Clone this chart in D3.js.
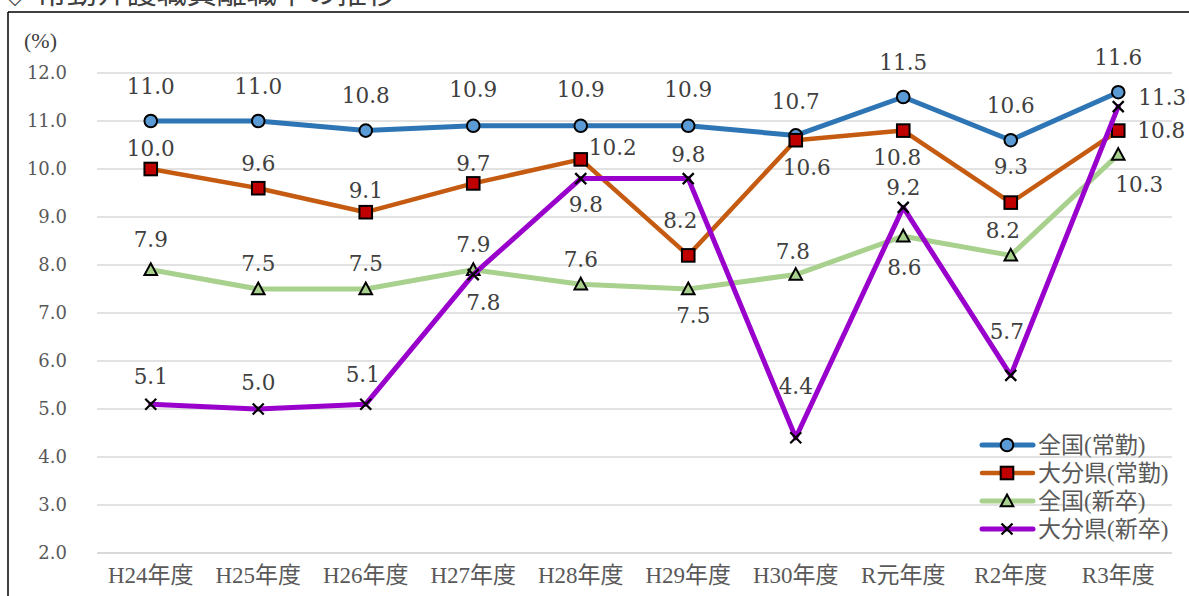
<!DOCTYPE html>
<html lang="ja">
<head>
<meta charset="utf-8">
<script src="https://cdn.jsdelivr.net/npm/d3@7"></script>
<style>
  html, body { margin: 0; padding: 0; background: #fff; overflow: hidden; }
  svg { display: block; }
</style>
</head>
<body>
<script>
// 年度別の離職率（%）
const categories = ["H24年度", "H25年度", "H26年度", "H27年度", "H28年度", "H29年度", "H30年度", "R元年度", "R2年度", "R3年度"];
const seriesNames = ["全国(常勤)", "大分県(常勤)", "全国(新卒)", "大分県(新卒)"];
const nationalRegular = [11.0, 11.0, 10.8, 10.9, 10.9, 10.9, 10.7, 11.5, 10.6, 11.6];
const oitaRegular     = [10.0, 9.6, 9.1, 9.7, 10.2, 8.2, 10.6, 10.8, 9.3, 10.8];
const nationalNewGrad = [7.9, 7.5, 7.5, 7.9, 7.6, 7.5, 7.8, 8.6, 8.2, 10.3];
const oitaNewGrad     = [5.1, 5.0, 5.1, 7.8, 9.8, 9.8, 4.4, 9.2, 5.7, 11.3];
const yTicks = [2, 3, 4, 5, 6, 7, 8, 9, 10, 11, 12];

// ラベルの配置（点からのずれ, px）
const labelShift = [
  [[0,-35],[0,-35],[0,-35],[0,-36],[0,-36],[0,-36],[0,-34],[0,-35],[0,-35],[0,-35]],
  [[0,-21],[0,-25],[0,-22],[0,-20],[32,-12],[-8,-35],[11,27],[-6,27],[0,-36],[43,0]],
  [[0,-30],[0,-26],[0,-26],[0,-25],[0,-25],[5,26],[-3,-23],[1,31],[-8,-25],[21,30]],
  [[0,-28],[0,-27],[-3,-30],[10,28],[5,26],[0,-24],[0,-51],[0,-20],[-4,-44],[44,-9]]
];

const W = 1189, H = 596;
const svg = d3.select("body").append("svg").attr("width", W).attr("height", H);

const serifFont = "'Liberation Serif', 'Noto Sans CJK JP', serif";
const labelFont = "'DejaVu Serif', 'Noto Sans CJK JP', serif";

// 見出し（上端で切れている）
svg.append("text")
  .attr("x", 0).attr("y", 3)
  .attr("font-family", "'Noto Sans CJK JP', sans-serif")
  .attr("font-size", 30)
  .attr("fill", "#404040")
  .text("◇ 常勤介護職員離職率の推移");

// 外枠
svg.append("line").attr("x1", 8).attr("x2", W + 5).attr("y1", 12).attr("y2", 12)
  .attr("stroke", "#000").attr("stroke-width", 1.5);
svg.append("line").attr("x1", 8).attr("x2", 8).attr("y1", 12).attr("y2", H + 5)
  .attr("stroke", "#000").attr("stroke-width", 1.5);

const x = d3.scaleBand().domain(categories).range([97, 1172]).padding(0);
const cx = c => x(c) + x.bandwidth() / 2;
const y = d3.scaleLinear().domain([2, 12]).range([553, 73]);

// 目盛線
svg.append("g").selectAll("line").data(yTicks).join("line")
  .attr("x1", 97).attr("x2", 1172)
  .attr("y1", d => y(d)).attr("y2", d => y(d))
  .attr("stroke", "#d9d9d9")
  .attr("stroke-width", d => d === 2 ? 2 : 1.5);

// 縦軸
const yAxis = d3.axisLeft(y).tickValues(yTicks).tickFormat(d3.format(".1f")).tickSize(0).tickPadding(0);
const gy = svg.append("g").attr("transform", "translate(67,0)").call(yAxis);
gy.select(".domain").remove();
gy.selectAll("text")
  .attr("font-family", labelFont).attr("font-size", 18).attr("fill", "#595959");

svg.append("text").attr("x", 24).attr("y", 40)
  .attr("dominant-baseline", "central")
  .attr("font-family", serifFont).attr("font-size", 22).attr("fill", "#404040")
  .text("(%)");

// 横軸
const xAxis = d3.axisBottom(x).tickSize(0).tickPadding(0);
const gx = svg.append("g").attr("transform", "translate(0,567)").call(xAxis);
gx.select(".domain").remove();
gx.selectAll("text")
  .attr("font-family", serifFont).attr("font-size", 23).attr("fill", "#595959")
  .attr("dy", "0.7em");

const series = [
  { name: seriesNames[0], values: nationalRegular, line: "#2E75B6", width: 5, marker: "circle", fill: "#5B9BD5" },
  { name: seriesNames[1], values: oitaRegular, line: "#C55A11", width: 4.5, marker: "square", fill: "#C00000" },
  { name: seriesNames[2], values: nationalNewGrad, line: "#A9D18E", width: 5, marker: "triangle", fill: "#A9D18E" },
  { name: seriesNames[3], values: oitaNewGrad, line: "#9900CC", width: 5, marker: "cross", fill: "none" }
];

function drawMarker(g, type, fill) {
  if (type === "circle") {
    g.append("circle").attr("r", 6.3).attr("fill", fill).attr("stroke", "#000").attr("stroke-width", 2);
  } else if (type === "square") {
    g.append("rect").attr("x", -6.3).attr("y", -6.3).attr("width", 12.6).attr("height", 12.6)
      .attr("fill", fill).attr("stroke", "#000").attr("stroke-width", 2);
  } else if (type === "triangle") {
    g.append("path").attr("d", "M0,-6.5L6.3,5.2L-6.3,5.2Z")
      .attr("fill", fill).attr("stroke", "#000").attr("stroke-width", 2).attr("stroke-linejoin", "miter");
  } else {
    g.append("path").attr("d", "M-5.5,-5.5L5.5,5.5M-5.5,5.5L5.5,-5.5")
      .attr("stroke", "#000").attr("stroke-width", 2.2).attr("fill", "none");
  }
}

const lineGen = d3.line().x((d, i) => cx(categories[i])).y(d => y(d));

series.forEach(s => {
  const g = svg.append("g");
  g.append("path").attr("d", lineGen(s.values))
    .attr("fill", "none").attr("stroke", s.line).attr("stroke-width", s.width)
    .attr("stroke-linejoin", "round").attr("stroke-linecap", "round");
  s.values.forEach((v, i) => {
    const m = g.append("g").attr("transform", `translate(${cx(categories[i])},${y(v)})`);
    drawMarker(m, s.marker, s.fill);
  });
});

// データラベル
series.forEach((s, si) => {
  svg.append("g").selectAll("text").data(s.values).join("text")
    .attr("x", (d, i) => cx(categories[i]) + labelShift[si][i][0])
    .attr("y", (d, i) => y(d) + labelShift[si][i][1])
    .attr("text-anchor", "middle").attr("dominant-baseline", "central")
    .attr("font-family", labelFont).attr("font-size", 21.5).attr("fill", "#404040")
    .text(d => d.toFixed(1));
});

// 凡例
const legend = svg.append("g");
series.forEach((s, i) => {
  const ly = 445 + i * 28;
  legend.append("line").attr("x1", 982).attr("x2", 1033).attr("y1", ly).attr("y2", ly)
    .attr("stroke", s.line).attr("stroke-width", s.width).attr("stroke-linecap", "round");
  const m = legend.append("g").attr("transform", `translate(1007,${ly})`);
  drawMarker(m, s.marker, s.fill);
  legend.append("text").attr("x", 1038).attr("y", ly)
    .attr("dominant-baseline", "central")
    .attr("font-family", serifFont).attr("font-size", 23).attr("fill", "#595959")
    .text(s.name);
});
</script>
</body>
</html>
